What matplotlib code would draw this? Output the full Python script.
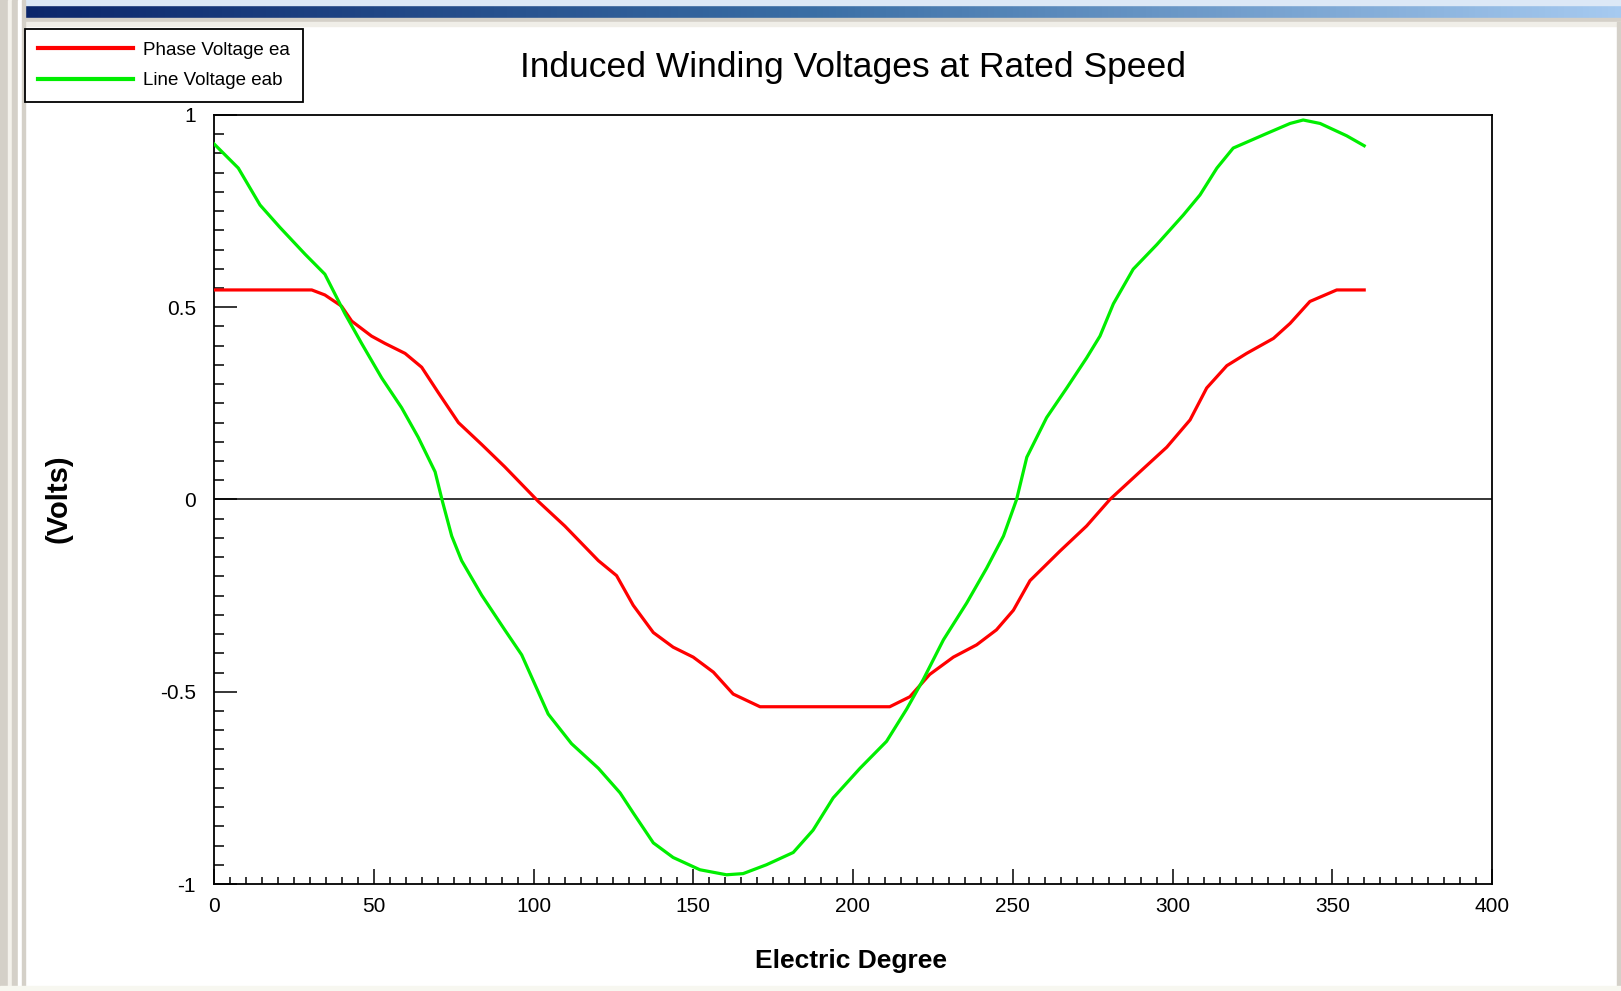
import matplotlib
matplotlib.use("Agg")
import matplotlib.pyplot as plt
import numpy as np
from matplotlib.patches import Rectangle
from matplotlib.ticker import MultipleLocator
from matplotlib.colors import LinearSegmentedColormap

# ---- data ----
phase_x = [0, 30.6, 34.7, 39.9, 43.1, 49.3, 53.5, 59.8, 65, 70.2, 76.5, 83.8, 91, 101.5,
           109.8, 120.3, 126, 131.2, 137.5, 143.7, 150, 156.3, 162.5, 170.9, 211.5, 217.8,
           224, 231.4, 238.7, 244.9, 250.2, 255.4, 264.8, 273.1, 280.4, 289.8, 298.2, 305.5,
           310.7, 317, 323.2, 331.6, 336.8, 343, 351.4, 360]
phase_y = [0.545, 0.545, 0.532, 0.503, 0.464, 0.425, 0.406, 0.380, 0.344, 0.278, 0.2, 0.143,
           0.085, -0.005, -0.069, -0.159, -0.198, -0.275, -0.346, -0.384, -0.41, -0.449,
           -0.506, -0.539, -0.539, -0.513, -0.455, -0.41, -0.378, -0.339, -0.288, -0.211,
           -0.134, -0.069, 0, 0.072, 0.136, 0.207, 0.29, 0.348, 0.38, 0.419, 0.458, 0.515,
           0.545, 0.545]

line_x = [0, 7.6, 14.4, 20.6, 28.5, 34.7, 41, 46.2, 52.5, 58.7, 63.9, 69.2, 71.5, 74.4, 77.5,
          83.8, 91, 96.3, 104.6, 111.9, 120.3, 127.1, 131.2, 137.5, 143.7, 152.1, 160.4, 165.6,
          172.9, 181.3, 187.5, 193.8, 202.2, 210.5, 216.8, 222, 228.3, 235.6, 241.8, 247.1,
          251.2, 254.4, 260.6, 266.9, 273.1, 277.3, 281.5, 287.7, 295.1, 303.4, 308.6, 313.9,
          319, 329.5, 336.8, 340.9, 346.2, 354.5, 360]
line_y = [0.925, 0.862, 0.766, 0.708, 0.638, 0.586, 0.483, 0.406, 0.316, 0.239, 0.162, 0.072,
          -0.005, -0.095, -0.159, -0.249, -0.339, -0.404, -0.558, -0.635, -0.699, -0.763,
          -0.815, -0.893, -0.931, -0.963, -0.976, -0.973, -0.95, -0.918, -0.86, -0.776,
          -0.699, -0.629, -0.545, -0.468, -0.365, -0.269, -0.179, -0.095, 0, 0.11, 0.213,
          0.29, 0.368, 0.425, 0.509, 0.599, 0.663, 0.74, 0.792, 0.862, 0.914, 0.952, 0.978,
          0.987, 0.978, 0.946, 0.92]

series_labels = ["Phase Voltage ea", "Line Voltage eab"]
x_ticks = [0, 50, 100, 150, 200, 250, 300, 350, 400]
y_ticks = [-1, -0.5, 0, 0.5, 1]
y_tick_labels = ["-1", "-0.5", "0", "0.5", "1"]

FONT = ["Liberation Sans", "DejaVu Sans"]
plt.rcParams["font.family"] = FONT

W, H = 1621, 991
fig = plt.figure(figsize=(W / 100, H / 100), dpi=100)
fig.patch.set_facecolor("white")

# ---- window chrome ----
bg = fig.add_axes([0, 0, 1, 1], zorder=-10)
bg.set_xlim(0, W)
bg.set_ylim(H, 0)
bg.axis("off")
grad = np.linspace(0, 1, 256)[None, :]
cmap = LinearSegmentedColormap.from_list("tb", ["#0a246a", "#3a6ea5", "#a6caf0"])
bg.imshow(grad, cmap=cmap, extent=(0, W, 18, 5), aspect="auto")
bg.add_patch(Rectangle((0, 0), W, 5, color="#dce8f6"))
bg.add_patch(Rectangle((0, 18), W, 4, color="#d4d0c8"))
bg.add_patch(Rectangle((0, 22), W, 4, color="#f0eee8"))
for x0, w, c in [(0, 8, "#d4d0c8"), (8, 4, "#f4f2ec"), (12, 6, "#d4d0c8"),
                 (18, 4, "#ffffff"), (22, 3, "#d4d0c8")]:
    bg.add_patch(Rectangle((x0, 0), w, H, color=c))
bg.add_patch(Rectangle((W - 4, 22), 4, H, color="#d4d0c8"))
bg.add_patch(Rectangle((0, H - 5), W, 5, color="#f7f7f0"))

# ---- main axes ----
L, R, T, B = 214, 1492, 115, 884
ax = fig.add_axes([L / W, 1 - B / H, (R - L) / W, (B - T) / H])
ax.plot(phase_x, phase_y, color="#ff0000", lw=2.3, label=series_labels[0], zorder=3)
ax.plot(line_x, line_y, color="#00ee00", lw=2.3, label=series_labels[1], zorder=3)
ax.axhline(0, color="black", lw=1.1, zorder=2)

ax.set_xlim(0, 400)
ax.set_ylim(-1, 1)
ax.set_xticks(x_ticks)
ax.set_xticklabels([str(v) for v in x_ticks])
ax.set_yticks(y_ticks)
ax.set_yticklabels(y_tick_labels)
ax.xaxis.set_minor_locator(MultipleLocator(5))
ax.yaxis.set_minor_locator(MultipleLocator(0.05))
ax.tick_params(axis="x", which="major", direction="in", length=10.8, width=1.1,
               labelsize=15, pad=9, top=False)
ax.tick_params(axis="x", which="minor", direction="in", length=5, width=1.1, top=False)
ax.tick_params(axis="y", which="major", direction="in", length=16.5, width=1.1,
               labelsize=15, pad=13, right=False)
ax.tick_params(axis="y", which="minor", direction="in", length=7.2, width=1.1, right=False)
for s in ax.spines.values():
    s.set_linewidth(1.3)

ax.set_xlabel("Electric Degree", fontsize=19, fontweight="bold")
ax.xaxis.label.set_va("center")
ax.xaxis.set_label_coords((851 - L) / (R - L), -(961 - B) / (B - T))
ax.set_ylabel("(Volts)", fontsize=21, fontweight="bold")
ax.yaxis.label.set_va("center")
ax.yaxis.set_label_coords((59 - L) / (R - L), (B - 499) / (B - T))

fig.text(853 / W, 1 - 68 / H, "Induced Winding Voltages at Rated Speed",
         fontsize=25.5, ha="center", va="center")

leg = fig.legend(loc="upper left", bbox_to_anchor=(25 / W, 1 - 29 / H),
                 fontsize=13.5, frameon=True, fancybox=False, edgecolor="black",
                 framealpha=1, borderaxespad=0, handlelength=5.1, handletextpad=0.53,
                 borderpad=0.68, labelspacing=0.71)
leg.get_frame().set_linewidth(1.3)
for h in leg.legend_handles:
    h.set_linewidth(3)

fig.savefig("out.png", dpi=100)
